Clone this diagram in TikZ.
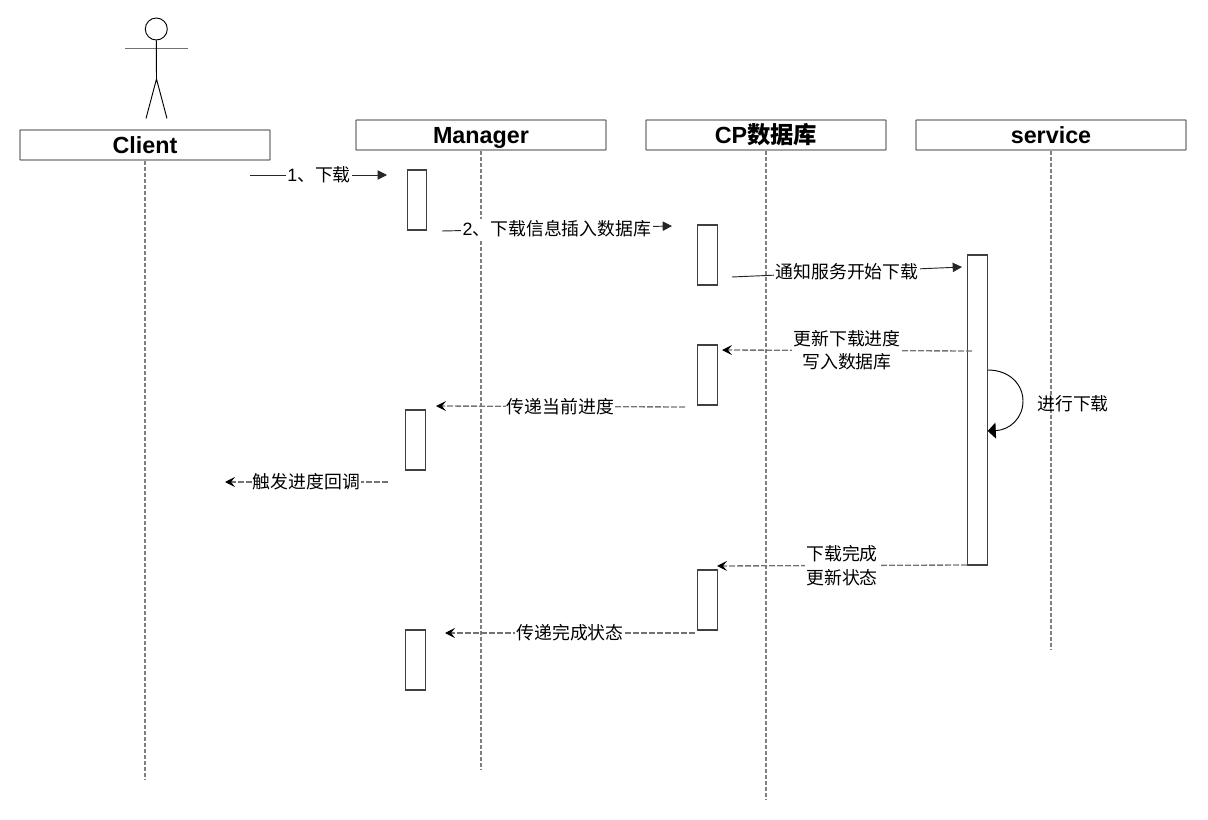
\documentclass[tikz,border=0pt]{standalone}
\usepackage{fontspec}
\setmainfont{Liberation Sans}
\newfontfamily\cjk{Noto Sans CJK SC}
\usetikzlibrary{arrows.meta}
\tikzset{
  x=0.75pt,y=-0.75pt,
  header/.style={draw=black!55,line width=1pt,rounded corners=0.5pt,minimum height=22.5pt,inner sep=0pt,font=\bfseries\fontsize{17.5}{20}\selectfont,fill=white,text height=12.5pt,text depth=0.4pt},
  activation/.style={draw=black!75,line width=0.9pt,minimum width=14.5pt,fill=white,inner sep=0pt},
  lifeline/.style={draw=black!50,line width=1pt,dash pattern=on 3pt off 1.5pt},
  msgtext/.style={font=\fontsize{13.4}{17.5}\selectfont\cjk,fill=white,inner sep=1pt,align=center},
  syncmsg/.style={draw=black!85,line width=0.7pt,-{Triangle[length=7pt,width=7pt]}},
  retmsg/.style={draw=black!55,line width=1pt,dash pattern=on 4.5pt off 1.5pt,-{Stealth[length=7.5pt,width=7.5pt,inset=3pt,black]}},
  stick/.style={draw=black,line width=0.7pt}
}
\begin{document}
\begin{tikzpicture}
\useasboundingbox (0,0) rectangle (1208,820);
% lifeline ends
\coordinate (cEnd) at (145,780);
\coordinate (mEnd) at (481,770);
\coordinate (dEnd) at (766,800);
\coordinate (sEnd) at (1051,650);
% headers
\node[header,minimum width=187.5pt] (client) at (145,145) {Client};
\node[header,minimum width=187.5pt] (manager) at (481,135) {Manager};
\node[header,minimum width=180pt] (db) at (766,135) {CP{\cjk 数据库}};
\node[header,minimum width=202.5pt] (service) at (1051,135) {service};
% lifelines
\draw[lifeline] (client.south) -- (cEnd);
\draw[lifeline] (manager.south) -- (mEnd);
\draw[lifeline] (db.south) -- (dEnd);
\draw[lifeline] (service.south) -- (sEnd);
% actor
\node[draw=black,line width=0.7pt,circle,minimum size=16.5pt,inner sep=0pt] (head) at (156.3,29) {};
\coordinate (armL) at (125,48.5);
\coordinate (armR) at (188,48.5);
\coordinate (hip) at (156.5,79);
\coordinate (footL) at (146,118.5);
\coordinate (footR) at (167,118.5);
\draw[draw=black!55,line width=1pt] (armL) -- (armR);
\draw[stick] (head.south) -- (hip);
\draw[stick] (footL) -- (hip) -- (footR);
% activations
\node[activation,minimum height=45pt] (m1) at (417,200) {};
\node[activation,minimum height=45pt] (d1) at (707.5,255) {};
\node[activation,minimum height=232.5pt] (s1) at (977.5,410) {};
\node[activation,minimum height=45pt] (d2) at (707.5,375) {};
\node[activation,minimum height=45pt] (m2) at (415.5,440) {};
\node[activation,minimum height=45pt] (d3) at (707.5,600) {};
\node[activation,minimum height=45pt] (m3) at (415.5,660) {};
% message ends
\coordinate (a1) at (250,175);   \coordinate (b1) at (387,175);
\coordinate (a2) at (442,231);   \coordinate (b2) at (672,226);
\coordinate (a3) at (732,277);   \coordinate (b3) at (962,267);
\coordinate (a4) at (972,351);   \coordinate (b4) at (722,350);
\coordinate (a5) at (685,407);   \coordinate (b5) at (436,406);
\coordinate (a6) at (388,482);   \coordinate (b6) at (225,482);
\coordinate (a7) at (967,565);   \coordinate (b7) at (717,566);
\coordinate (a8) at (695,633);   \coordinate (b8) at (445,633);
% messages
\draw[syncmsg] (a1) -- (b1) node[msgtext,pos=0.504,yshift=0.5pt] (l1) {\fontspec{Liberation Sans}1{\cjk 、下载}};
\draw[syncmsg] (a2) -- (b2) node[msgtext,pos=0.5,yshift=-0.3pt] (l2) {\fontspec{Liberation Sans}2{\cjk 、下载信息插入数据库}};
\draw[syncmsg] (a3) -- (b3) node[msgtext,pos=0.5] (l3) {通知服务开始下载};
\draw[retmsg] (a4) -- (b4) node[msgtext,pos=0.5] (l4) {更新下载进度\\写入数据库};
\draw[retmsg] (a5) -- (b5) node[msgtext,pos=0.5] (l5) {传递当前进度};
\draw[retmsg] (a6) -- (b6) node[msgtext,pos=0.5] (l6) {触发进度回调};
\draw[retmsg] (a7) -- (b7) node[msgtext,pos=0.5] (l7) {下载完成\\更新状态};
\draw[retmsg] (a8) -- (b8) node[msgtext,pos=0.5] (l8) {传递完成状态};
% self message
\coordinate (selfA) at (s1.east |- 0,370);
\coordinate (selfB) at (s1.east |- 0,431);
\draw[draw=black,line width=0.7pt,-{Triangle[length=6pt,width=12pt]}] (selfA) .. controls (1010,370) and (1023,385) .. (1023,401) .. controls (1023,418) and (1010,430) .. (selfB);
\node[font=\fontsize{13.4}{17.5}\selectfont\cjk,inner sep=0pt] (selfLabel) at (1073,404) {进行下载};
\end{tikzpicture}
\end{document}
